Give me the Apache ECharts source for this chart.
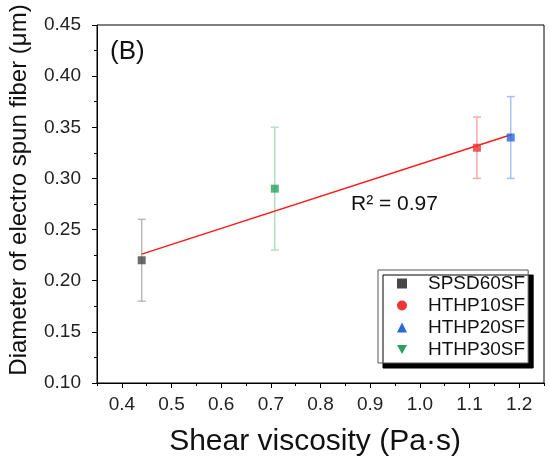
<!DOCTYPE html>
<html lang="en">

<head>
    <meta charset="UTF-8" />
    <title>eCharts</title>
    <script src="https://cdn.jsdelivr.net/npm/echarts@6.0.0/dist/echarts.min.js"></script>
    <style>
        body { margin: 0; background: #fff; }
    </style>
</head>

<body>
    <div id="main" style="width: 550px; height: 466px"></div>
    <script type="text/javascript">
        // data
        const names = ["SPSD60SF", "HTHP10SF", "HTHP20SF", "HTHP30SF"];
        const viscosity = [0.44, 1.115, 1.183, 0.708];
        const diameter = [0.22, 0.33, 0.34, 0.29];
        const errors = [0.04, 0.03, 0.04, 0.06];
        const fitX = [0.44, 1.185];
        const fitY = [0.226, 0.343];
        const xMajor = [0.4, 0.5, 0.6, 0.7, 0.8, 0.9, 1.0, 1.1, 1.2];
        const xMinor = [0.35, 0.45, 0.55, 0.65, 0.75, 0.85, 0.95, 1.05, 1.15, 1.25];

        const colors = ["#474747", "#ee3535", "#2868d8", "#2aa05e"];
        const barColors = ["#b8b8b8", "#f7aaaa", "#a8c0ec", "#b2dfc2"];
        const icons = ["rect", "circle", "triangle", "path://M0,0 L10,0 L5,9 Z"];

        const font = "Liberation Sans, Arial, sans-serif";

        let series = [];
        names.forEach((name, i) => {
            // error bar
            series.push({
                type: "custom",
                name: name,
                data: [[viscosity[i], diameter[i] - errors[i], diameter[i] + errors[i]]],
                renderItem: (params, api) => {
                    let lo = api.coord([api.value(0), api.value(1)]);
                    let hi = api.coord([api.value(0), api.value(2)]);
                    let w = 4;
                    let style = { stroke: barColors[i], lineWidth: 1.5 };
                    return {
                        type: "group",
                        children: [
                            { type: "line", shape: { x1: lo[0], y1: lo[1], x2: hi[0], y2: hi[1] }, style: style },
                            { type: "line", shape: { x1: lo[0] - w, y1: lo[1], x2: lo[0] + w, y2: lo[1] }, style: style },
                            { type: "line", shape: { x1: hi[0] - w, y1: hi[1], x2: hi[0] + w, y2: hi[1] }, style: style },
                        ],
                    };
                },
                z: 1,
            });
        });

        // fit line
        series.push({
            type: "line",
            name: "fit",
            data: fitX.map((x, i) => [x, fitY[i]]),
            showSymbol: false,
            lineStyle: { color: "#ff1a1a", width: 1.5 },
            z: 2,
        });

        names.forEach((name, i) => {
            series.push({
                type: "scatter",
                name: name,
                data: [[viscosity[i], diameter[i]]],
                symbol: "rect",
                symbolSize: 8,
                itemStyle: { color: colors[i] },
                z: 3,
            });
        });

        let options = {
            animation: false,
            color: colors,
            grid: {
                left: 97, right: 6, top: 25, bottom: 83,
                show: true, borderColor: "#000", borderWidth: 1,
            },
            xAxis: [
                {
                    type: "value", min: 0.35, max: 1.25,
                    axisLine: { show: true, lineStyle: { color: "#000", width: 1 } },
                    axisTick: { show: true, length: 5, customValues: xMajor, lineStyle: { color: "#000" } },
                    axisLabel: {
                        customValues: xMajor, color: "#222", fontSize: 19, fontFamily: font, margin: 12,
                        formatter: (v) => v.toFixed(1),
                    },
                    splitLine: { show: false },
                },
                {
                    type: "value", min: 0.35, max: 1.25, position: "bottom",
                    axisLine: { show: false },
                    axisTick: { show: true, length: 3, customValues: xMinor, lineStyle: { color: "#000" } },
                    axisLabel: { show: false },
                    splitLine: { show: false },
                },
            ],
            yAxis: {
                type: "value", min: 0.1, max: 0.45, interval: 0.05,
                axisLine: { show: true, lineStyle: { color: "#000", width: 1 } },
                axisTick: { show: true, length: 5, lineStyle: { color: "#000" } },
                minorTick: { show: true, splitNumber: 2, length: 3, lineStyle: { color: "#000" } },
                axisLabel: {
                    color: "#222", fontSize: 19, fontFamily: font, margin: 16,
                    formatter: (v) => v.toFixed(2),
                },
                splitLine: { show: false },
            },
            legend: {
                orient: "vertical",
                left: 378, top: 270,
                data: names.map((n, i) => ({ name: n, icon: icons[i], itemStyle: { color: colors[i] } })),
                itemWidth: 10, itemHeight: 10, itemGap: 3,
                padding: [4, 3, 4, 19],
                textStyle: { fontSize: 19, fontFamily: font, color: "#111", padding: [0, 0, 0, 16] },
                backgroundColor: "#fff",
                borderColor: "#555", borderWidth: 1,
                shadowColor: "#000", shadowBlur: 0, shadowOffsetX: 5, shadowOffsetY: 5,
                selectedMode: false,
            },
            graphic: [
                { type: "text", left: 110, top: 39, style: { text: "(B)", fontSize: 26, fontFamily: font, fill: "#111" } },
                { type: "text", left: 351, top: 194, style: { text: "R\u00b2 = 0.97", fontSize: 21, fontFamily: font, fill: "#111" } },
                {
                    type: "text", x: 315, y: 442,
                    style: { text: "Shear viscosity (Pa\u00b7s)", fontSize: 30, fontFamily: font, fill: "#111", align: "center", verticalAlign: "middle" },
                },
                {
                    type: "text", x: 19, y: 190, rotation: Math.PI / 2,
                    style: { text: "Diameter of electro spun fiber (\u03bcm)", fontSize: 24, fontFamily: font, fill: "#111", align: "center", verticalAlign: "middle" },
                },
            ],
            series: series,
        };

        let myChart = echarts.init(document.getElementById("main"));
        myChart.setOption(options);
    </script>
</body>

</html>
